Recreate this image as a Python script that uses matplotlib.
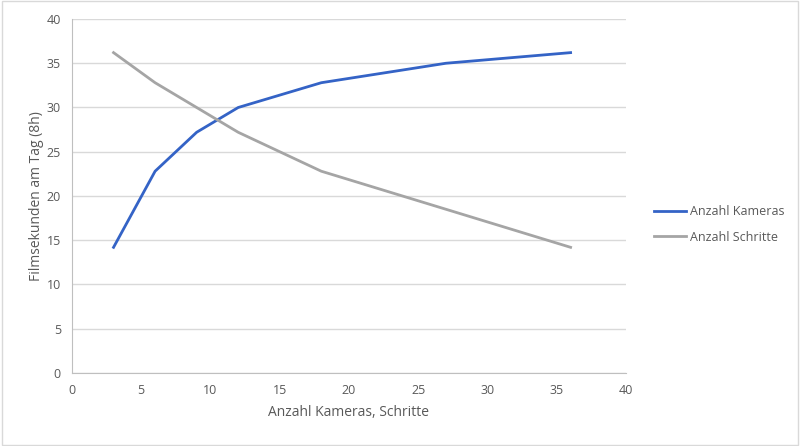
import matplotlib.pyplot as plt
from matplotlib.patches import Rectangle

# Daten
kameras_x = [3, 6, 9, 12, 18, 27, 36]
kameras_y = [14.2, 22.8, 27.2, 30.0, 32.8, 35.0, 36.2]
schritte_x = [3, 6, 12, 18, 36]
schritte_y = [36.2, 32.8, 27.2, 22.8, 14.2]

plt.rcParams['font.family'] = ['Open Sans', 'DejaVu Sans']
txt = '#595959'

fig = plt.figure(figsize=(8, 4.46), dpi=100)
ax = fig.add_axes([0.09, 0.1637, 0.6925, 0.7937])

ax.plot(kameras_x, kameras_y, color='#3463C6', lw=2, label='Anzahl Kameras')
ax.plot(schritte_x, schritte_y, color='#A5A5A5', lw=2, label='Anzahl Schritte')

ax.set_xlim(0, 40)
ax.set_ylim(0, 40)
ax.set_xticks(range(0, 41, 5))
ax.set_yticks(range(0, 41, 5))
ax.grid(axis='y', color='#d9d9d9', lw=1)
ax.set_axisbelow(True)
for s in ['top', 'right']:
    ax.spines[s].set_visible(False)
for s in ['left', 'bottom']:
    ax.spines[s].set_color('#bfbfbf')
ax.tick_params(length=0, colors=txt, labelsize=9, pad=8)

ax.set_xlabel('Anzahl Kameras, Schritte', color=txt, fontsize=10, labelpad=6)
ax.set_ylabel('Filmsekunden am Tag (8h)', color=txt, fontsize=10, labelpad=2)

ax.legend(loc='center left', bbox_to_anchor=(1.03, 0.42), frameon=False,
          fontsize=9, labelcolor=txt, handlelength=2.6, handletextpad=0.3,
          labelspacing=1.0)

fig.patches.append(Rectangle((0.002, 0.003), 0.996, 0.994, transform=fig.transFigure,
                             fill=False, edgecolor='#d9d9d9', lw=1))

fig.savefig('out.png', dpi=100)
